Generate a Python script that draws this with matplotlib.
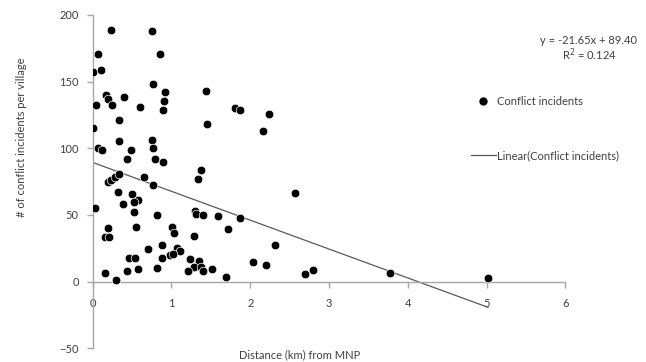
import numpy as np
import matplotlib
matplotlib.use("Agg")
import matplotlib.pyplot as plt
from matplotlib.lines import Line2D

# distance from MNP (km) and conflict incidents per village
distance = [0.23, 0.75, 0.07, 0.85, 0.01, 0.10, 0.77, 0.92, 1.44, 0.17,
            0.20, 0.24, 0.40, 0.04, 0.90, 0.89, 0.60, 1.81, 1.87, 2.24,
            2.16, 1.45, 0.33, 0.01, 0.34, 0.75, 0.77, 0.48, 0.07, 0.12,
            0.44, 0.79, 0.89, 0.65, 1.38, 1.34, 0.19, 0.23, 0.28, 0.33,
            0.76, 0.32, 0.50, 0.57, 0.53, 0.39, 0.03, 0.52, 0.82, 1.30,
            1.31, 1.40, 1.59, 1.87, 2.57, 1.72, 0.55, 0.20, 0.16, 0.21,
            1.01, 1.03, 1.29, 2.31, 0.88, 0.70, 1.07, 1.11, 0.98, 1.02,
            0.88, 0.46, 0.54, 1.23, 1.35, 1.28, 1.37, 1.40, 1.21, 1.52,
            1.69, 2.03, 2.20, 2.70, 2.80, 0.82, 0.58, 0.43, 0.15, 0.30,
            3.78, 5.02]
incidents = [188.8, 187.8, 171, 171, 157, 158.5, 148, 142, 143, 139.8,
             137, 132.8, 138.8, 132.8, 135.8, 128.5, 130.8, 130, 128.5, 126,
             112.8, 118, 121, 115.5, 105.8, 106, 100, 98.5, 100, 99,
             92, 92, 89.5, 78.3, 83.8, 77, 75, 76.5, 78.8, 80.5,
             72.8, 67.5, 65.5, 61, 59.8, 58.5, 55.5, 52.3, 50.3, 52.8,
             51, 50.3, 49.3, 47.5, 66.5, 39.5, 41.3, 40.5, 33.8, 33.8,
             41.3, 36.5, 34.5, 27.3, 27.3, 24.3, 25.5, 23.3, 20, 20.8,
             17.5, 17.5, 17.5, 16.8, 15.5, 11.3, 10.8, 7.8, 7.8, 9.5,
             3.8, 14.5, 12.5, 5.5, 8.8, 10.3, 9.5, 7.8, 6.5, 1.3,
             6.5, 2.5]

# trendline as reported on the chart
slope = -21.65
intercept = 89.40
r2 = 0.124

x_ticks = [0, 1, 2, 3, 4, 5, 6]
y_ticks = [-50, 0, 50, 100, 150, 200]

plt.rcParams['font.family'] = ['Lato', 'DejaVu Sans']
text_color = '#404040'
axis_color = '#a6a6a6'
fs = 8

fig = plt.figure(figsize=(6.46, 3.62), dpi=100)
ax = fig.add_axes([0.1435, 0.0378, 0.7316, 0.9208])

ax.plot(distance, incidents, 'o', color='black', markersize=6.2,
        markeredgecolor='white', markeredgewidth=0.5, zorder=3)

trend_x = np.array([min(distance), max(distance)])
ax.plot(trend_x, slope * trend_x + intercept, color='#595959',
        linewidth=0.9, zorder=2)

ax.set_xlim(0, 6)
ax.set_ylim(-50, 200)
ax.set_xticks(x_ticks)
ax.set_yticks(y_ticks)

# Excel style axes crossing at zero
ax.spines['left'].set_position(('data', 0))
ax.spines['bottom'].set_position(('data', 0))
ax.spines['top'].set_visible(False)
ax.spines['right'].set_visible(False)
for s in ['left', 'bottom']:
    ax.spines[s].set_color(axis_color)
    ax.spines[s].set_linewidth(1.0)

ax.tick_params(axis='both', colors=axis_color, labelcolor=text_color,
               labelsize=fs, length=4, width=1.0)
ax.tick_params(axis='y', pad=6)
ax.tick_params(axis='x', pad=8)

fig.text(300 / 646, 1 - 355 / 362, 'Distance (km) from MNP', ha='center',
         va='center', fontsize=fs, color=text_color)
fig.text(22 / 646, 1 - 137 / 362, '# of conflict incidents per village',
         ha='center', va='center', rotation=90, fontsize=fs, color=text_color)

fig.text(589 / 646, 1 - 40 / 362, 'y = %.2fx + %.2f' % (slope, intercept),
         ha='center', va='center', fontsize=fs, color=text_color)
fig.text(589 / 646, 1 - 55 / 362, 'R$^2$ = %.3f' % r2,
         ha='center', va='center', fontsize=fs, color=text_color)

handles = [Line2D([], [], marker='o', linestyle='none', color='black',
                  markersize=5),
           Line2D([], [], color='#595959', linewidth=0.9)]
ax.legend(handles, ['Conflict incidents', 'Linear(Conflict incidents)'],
          loc='upper left', bbox_to_anchor=(465.7 / 646, 1 - 90 / 362),
          bbox_transform=fig.transFigure, frameon=False, borderpad=0,
          fontsize=fs, labelcolor=text_color, handlelength=2.2,
          handletextpad=0.15, labelspacing=3.9)

fig.savefig('out.png', dpi=100)
